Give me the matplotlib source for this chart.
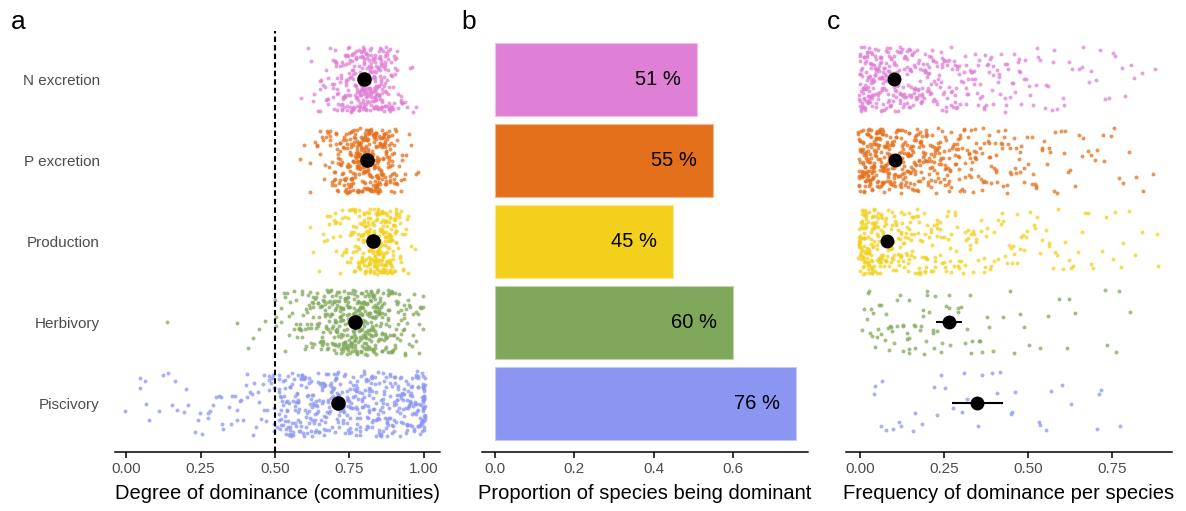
import numpy as np
import matplotlib.pyplot as plt

plt.rcParams['font.family'] = ['Liberation Sans', 'DejaVu Sans']

# 카테고리 / 색상
categories = ['N excretion', 'P excretion', 'Production', 'Herbivory', 'Piscivory']
colors = ['#E07FD6', '#E4701C', '#F3D01C', '#80A85A', '#8B96F3']

# panel a : degree of dominance, points per 0.01 step (first value = a_start)
a_start = [0.59, 0.59, 0.62, 0.51, 0.00]
a_counts_n = [1, 0, 1, 1, 2, 1, 3, 2, 4, 3, 5, 6, 7, 7, 9, 11, 12, 14, 13, 16,
              17, 19, 18, 20, 18, 19, 17, 15, 14, 12, 9, 7, 5, 3, 2, 2, 1, 2, 1]
a_counts_p = [1, 1, 0, 2, 1, 2, 2, 3, 3, 4, 5, 6, 8, 9, 10, 12, 13, 15, 16, 18,
              19, 20, 21, 20, 19, 20, 18, 16, 14, 12, 9, 7, 5, 4, 2, 2, 1, 1, 1, 1]
a_counts_prod = [1, 1, 0, 1, 2, 1, 2, 2, 3, 2, 3, 4, 4, 5, 7, 8, 10, 12, 14, 16,
                 18, 19, 20, 21, 20, 19, 17, 15, 12, 9, 6, 4, 2, 2, 1, 1]
a_counts_herb = [1, 2, 2, 2, 3, 3, 3, 4, 4, 5, 5, 6, 6, 7, 8, 8, 9, 10, 11, 12,
                 13, 14, 15, 16, 17, 17, 18, 18, 18, 17, 17, 16, 15, 14, 12, 11, 10, 9, 8, 7,
                 6, 5, 5, 4, 4, 3, 3, 3, 2, 3]
a_counts_pisc = [1, 0, 0, 0, 0, 2, 1, 1, 1, 0,
                 0, 1, 1, 0, 1, 1, 1, 1, 0, 1,
                 1, 1, 0, 1, 1, 1, 1, 2, 1, 1,
                 1, 1, 2, 1, 1, 2, 1, 2, 1, 2,
                 2, 1, 2, 2, 2, 2, 3, 2, 3, 3,
                 4, 6, 8, 8, 9, 8, 7, 8, 9, 8,
                 7, 8, 9, 7, 8, 8, 7, 9, 8, 7,
                 8, 9, 7, 8, 8, 9, 7, 8, 8, 8,
                 8, 9, 7, 8, 8, 8, 9, 7, 8, 8,
                 8, 8, 9, 8, 8, 9, 9, 9, 10, 12,
                 30]
a_extra_herb = [0.14, 0.37, 0.41, 0.43, 0.45, 0.47, 0.50, 0.50]
a_means = [0.80, 0.81, 0.83, 0.77, 0.71]

# panel b : proportion of species being dominant
b_props = [0.51, 0.55, 0.45, 0.60, 0.76]
b_labels = ['51 %', '55 %', '45 %', '60 %', '76 %']

# panel c : frequency of dominance per species (points per 0.01 step from 0)
c_counts_n = [15, 17, 16, 15, 14, 14, 13, 13, 12, 12, 11, 11, 10, 10, 9, 9, 9, 8, 8, 8,
              7, 7, 6, 7, 6, 6, 5, 6, 5, 5, 4, 5, 4, 4, 4, 3, 4, 3, 4, 3,
              3, 3, 3, 3, 3, 2, 3, 2, 3, 2, 2, 2, 1, 2, 1, 2, 1, 2, 1, 1,
              1, 1, 1, 1, 0, 1, 1, 1, 1, 1, 1, 1, 0, 1, 1, 1, 1, 0, 1, 1,
              0, 1, 1, 0, 1, 0, 0, 0, 1]
c_counts_p = [18, 20, 19, 18, 17, 17, 16, 15, 15, 14, 14, 13, 13, 12, 12, 11, 11, 10, 10, 9,
              9, 9, 8, 8, 8, 7, 7, 7, 6, 6, 6, 5, 5, 5, 5, 4, 4, 4, 4, 4,
              3, 4, 3, 3, 3, 3, 3, 2, 3, 2, 2, 2, 2, 2, 2, 1, 2, 1, 2, 1,
              1, 2, 1, 1, 1, 1, 1, 1, 1, 1, 1, 1, 1, 1, 0, 1, 1, 1, 0, 1,
              1, 0, 1, 0, 1, 0, 0, 1]
c_counts_prod = [22, 20, 19, 17, 15, 13, 12, 11, 10, 9, 9, 8, 8, 7, 7, 7, 6, 6, 6, 5,
                 5, 5, 5, 4, 4, 4, 4, 4, 3, 3, 3, 3, 3, 3, 3, 3, 2, 3, 2, 2,
                 2, 2, 2, 2, 2, 2, 2, 2, 2, 2, 2, 1, 2, 1, 2, 1, 2, 1, 1, 2,
                 1, 1, 1, 1, 1, 1, 1, 1, 1, 1, 1, 0, 1, 1, 0, 1, 1, 0, 1, 1,
                 1, 0, 1, 0, 1, 0, 0, 0, 1, 1]
c_herb = [0.008, 0.020, 0.026, 0.059, 0.057, 0.066, 0.056, 0.089, 0.104, 0.077,
          0.094, 0.088, 0.115, 0.120, 0.125, 0.125, 0.137, 0.143, 0.158, 0.148,
          0.163, 0.166, 0.178, 0.188, 0.186, 0.192, 0.198, 0.208, 0.214, 0.220,
          0.226, 0.230, 0.241, 0.247, 0.253, 0.263, 0.261, 0.266, 0.288, 0.290,
          0.312, 0.338, 0.366, 0.389, 0.364, 0.356, 0.380, 0.395, 0.428, 0.449,
          0.460, 0.475, 0.490, 0.499, 0.538, 0.563, 0.593, 0.617, 0.640, 0.627,
          0.733, 0.737, 0.769, 0.766, 0.808, 0.304, 0.316, 0.331, 0.334, 0.281,
          0.178, 0.200, 0.217, 0.040, 0.044, 0.037, 0.025, 0.020, 0.100, 0.084,
          0.140, 0.144, 0.145, 0.059, 0.012, 0.031, 0.072, 0.110, 0.133, 0.196]
c_pisc = [0.166, 0.317, 0.416, 0.125, 0.539, 0.630, 0.453, 0.455, 0.707, 0.350,
          0.363, 0.410, 0.188, 0.038, 0.062, 0.117, 0.043, 0.058, 0.099, 0.229,
          0.257, 0.571, 0.713, 0.711, 0.077, 0.160, 0.218, 0.280, 0.306, 0.313,
          0.398, 0.462, 0.532, 0.554, 0.600, 0.237, 0.771]
c_means = [0.100, 0.105, 0.080, 0.265, 0.350]
c_lo = [0.090, 0.095, 0.070, 0.225, 0.275]
c_hi = [0.110, 0.115, 0.090, 0.305, 0.425]


def expand(start, counts):
    steps = np.repeat(np.arange(len(counts)), counts)
    return start + steps * 0.01


def jitter(n, seed, amount):
    # 고정된 해시로 흩뿌리기 (재현 가능)
    i = np.arange(n)
    v = np.sin(i * 12.9898 + seed * 78.233) * 43758.5453
    return (v - np.floor(v) - 0.5) * 2 * amount


a_series = [expand(a_start[0], a_counts_n),
            expand(a_start[1], a_counts_p),
            expand(a_start[2], a_counts_prod),
            np.concatenate([a_extra_herb, expand(a_start[3], a_counts_herb)]),
            expand(a_start[4], a_counts_pisc)]
c_series = [expand(0, c_counts_n), expand(0, c_counts_p), expand(0, c_counts_prod),
            np.array(c_herb), np.array(c_pisc)]

fig = plt.figure(figsize=(11.86, 5.11), dpi=100)
bottom, height = 0.1155, 0.824
ax_a = fig.add_axes([0.097, bottom, 0.274, height])
ax_b = fig.add_axes([0.4064, bottom, 0.2749, height])
ax_c = fig.add_axes([0.7133, bottom, 0.2749, height])


def style(ax):
    for s in ['left', 'top', 'right']:
        ax.spines[s].set_visible(False)
    ax.spines['bottom'].set_linewidth(1.1)
    ax.tick_params(axis='x', length=4, width=1.1, labelsize=11, labelcolor='#4D4D4D', pad=3)
    ax.tick_params(axis='y', length=0)
    ax.set_ylim(4.6, -0.6)


# a
for k, vals in enumerate(a_series):
    n = len(vals)
    ax_a.scatter(vals + jitter(n, k + 1, 0.005), k + jitter(n, k + 11, 0.4),
                 s=8, color=colors[k], alpha=0.75, linewidths=0, zorder=2)
ax_a.axvline(0.5, color='black', lw=1.5, ls=(0, (2.6, 1.5)), zorder=3)
ax_a.scatter(a_means, range(5), s=110, color='black', zorder=4, linewidths=0)
style(ax_a)
ax_a.set_xlim(-0.037, 1.054)
ax_a.set_xticks([0, 0.25, 0.5, 0.75, 1.0])
ax_a.set_xticklabels(['0.00', '0.25', '0.50', '0.75', '1.00'])
ax_a.set_yticks(range(5))
ax_a.set_yticklabels(categories, fontsize=11, color='#4D4D4D')
ax_a.tick_params(axis='y', pad=11)
ax_a.set_xlabel('Degree of dominance (communities)', fontsize=14.5, labelpad=6)

# b
edge = [tuple(0.5 * np.array(plt.matplotlib.colors.to_rgb(c)) + 0.5) for c in colors]
ax_b.barh(range(5), b_props, height=0.9, color=colors, edgecolor=edge, linewidth=0.8)
for k, (v, lab) in enumerate(zip(b_props, b_labels)):
    ax_b.text(v - 0.04, k, lab, ha='right', va='center', fontsize=14.5)
style(ax_b)
ax_b.set_xlim(-0.033, 0.79)
ax_b.set_xticks([0, 0.2, 0.4, 0.6])
ax_b.set_xticklabels(['0.0', '0.2', '0.4', '0.6'])
ax_b.set_yticks([])
ax_b.set_xlabel('Proportion of species being dominant', fontsize=14.5, labelpad=6)

# c
for k, vals in enumerate(c_series):
    n = len(vals)
    ax_c.scatter(vals + jitter(n, k + 21, 0.005), k + jitter(n, k + 31, 0.4),
                 s=8, color=colors[k], alpha=0.75, linewidths=0, zorder=2)
ax_c.hlines(range(5), c_lo, c_hi, color='black', lw=1.5, zorder=3)
ax_c.scatter(c_means, range(5), s=100, color='black', zorder=4, linewidths=0)
style(ax_c)
ax_c.set_xlim(-0.042, 0.93)
ax_c.set_xticks([0, 0.25, 0.5, 0.75])
ax_c.set_xticklabels(['0.00', '0.25', '0.50', '0.75'])
ax_c.set_yticks([])
ax_c.set_xlabel('Frequency of dominance per species', fontsize=14.5, labelpad=6)

fig.text(0.009, 0.943, 'a', fontsize=19, va='baseline')
fig.text(0.389, 0.943, 'b', fontsize=19, va='baseline')
fig.text(0.697, 0.943, 'c', fontsize=19, va='baseline')

fig.savefig('out.png', dpi=100)
